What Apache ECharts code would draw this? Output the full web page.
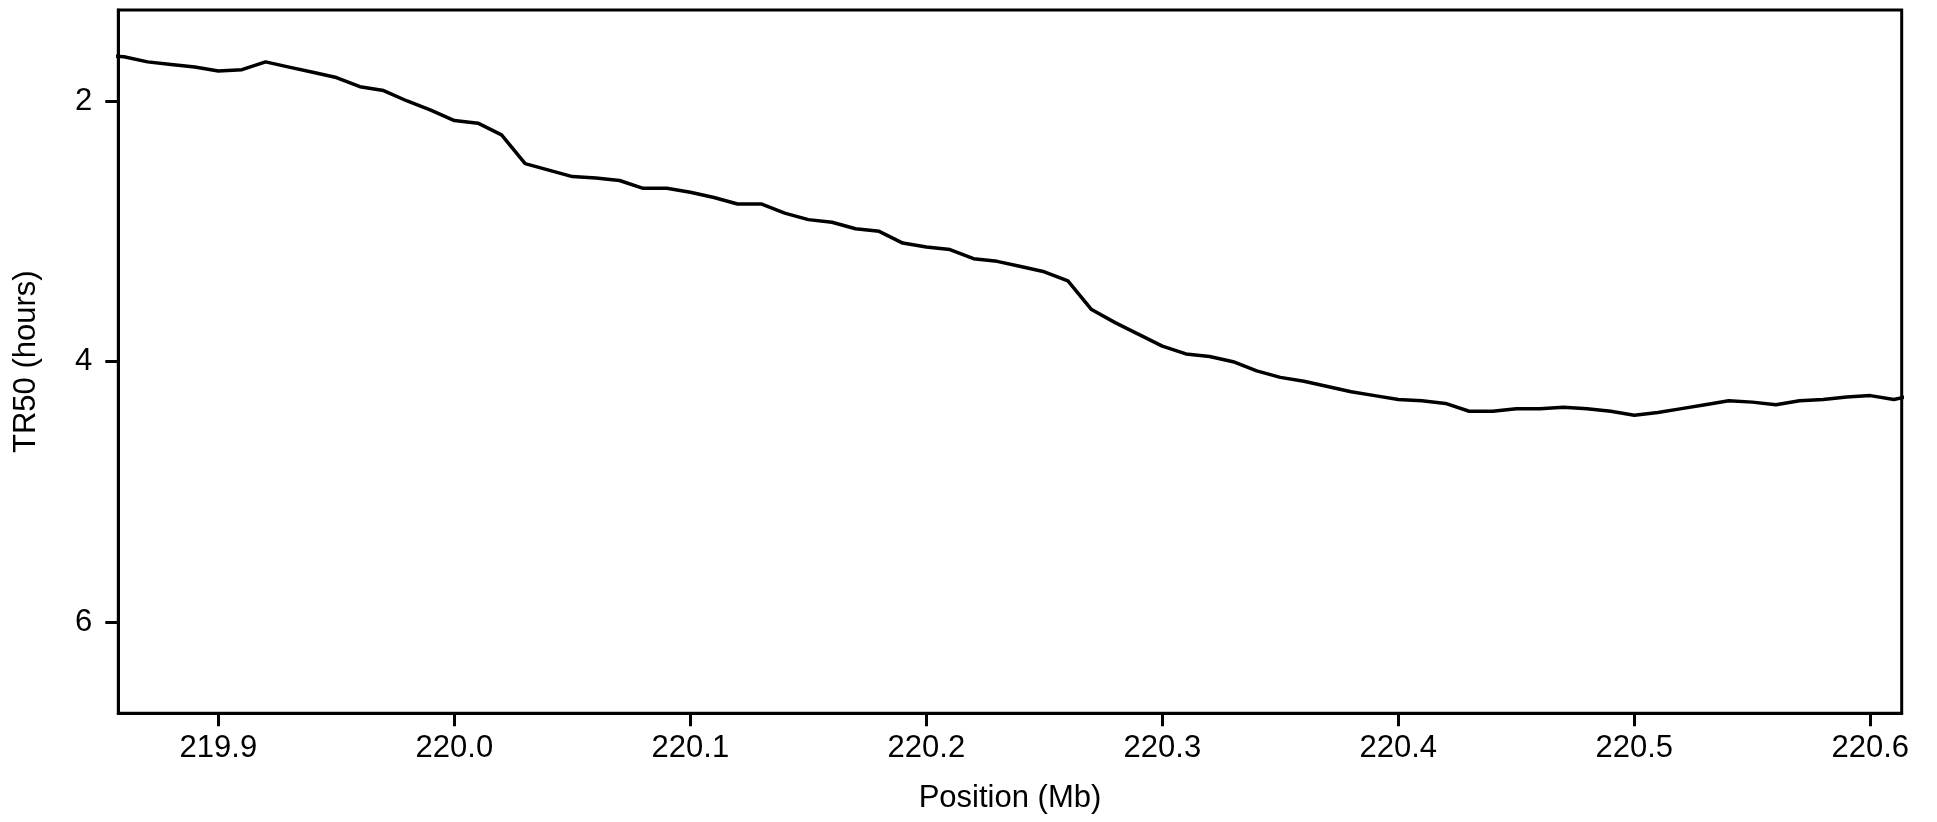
<!DOCTYPE html>
<html>
<head>
<meta charset="utf-8">
<script src="https://cdn.jsdelivr.net/npm/echarts@6/dist/echarts.min.js"></script>
<style>
html,body{margin:0;padding:0;background:#fff;}
#chart{width:1937px;height:822px;}
</style>
</head>
<body>
<div id="chart"></div>
<script>
const positions = [219.85,219.86,219.87,219.88,219.89,219.90,219.91,219.92,219.93,219.94,
  219.95,219.96,219.97,219.98,219.99,220.00,220.01,220.02,220.03,220.04,
  220.05,220.06,220.07,220.08,220.09,220.10,220.11,220.12,220.13,220.14,
  220.15,220.16,220.17,220.18,220.19,220.20,220.21,220.22,220.23,220.24,
  220.25,220.26,220.27,220.28,220.29,220.30,220.31,220.32,220.33,220.34,
  220.35,220.36,220.37,220.38,220.39,220.40,220.41,220.42,220.43,220.44,
  220.45,220.46,220.47,220.48,220.49,220.50,220.51,220.52,220.53,220.54,
  220.55,220.56,220.57,220.58,220.59,220.60,220.61,220.62];
const tr50 = [1.65,1.66,1.70,1.72,1.74,1.77,1.76,1.70,1.74,1.78,
  1.82,1.89,1.92,2.00,2.07,2.15,2.17,2.26,2.48,2.53,
  2.58,2.59,2.61,2.67,2.67,2.70,2.74,2.79,2.79,2.86,
  2.91,2.93,2.98,3.00,3.09,3.12,3.14,3.21,3.23,3.27,
  3.31,3.38,3.60,3.70,3.79,3.88,3.94,3.96,4.00,4.07,
  4.12,4.15,4.19,4.23,4.26,4.29,4.30,4.32,4.38,4.38,
  4.36,4.36,4.35,4.36,4.38,4.41,4.39,4.36,4.33,4.30,
  4.31,4.33,4.30,4.29,4.27,4.26,4.29,4.25];
const xTicks = [219.9,220.0,220.1,220.2,220.3,220.4,220.5,220.6];
const yTicks = [2,4,6];

const FONT = '"Liberation Sans", Arial, Helvetica, sans-serif';
const chart = echarts.init(document.getElementById('chart'), null, {renderer:'canvas'});
chart.setOption({
  animation: false,
  backgroundColor: '#ffffff',
  grid: {
    left: 118.3, right: 35.3, top: 10, bottom: 108.7,
    show: true, borderColor: '#000', borderWidth: 3, backgroundColor: 'transparent'
  },
  xAxis: {
    type: 'value',
    min: 219.8576, max: 220.6133,
    name: 'Position (Mb)',
    nameLocation: 'middle',
    nameGap: 70,
    nameTextStyle: {fontFamily: FONT, fontSize: 31, color: '#000'},
    axisLine: {show: true, lineStyle: {color: '#000', width: 3}},
    axisTick: {show: true, length: 13, lineStyle: {color: '#000', width: 3}, customValues: xTicks},
    axisLabel: {show: true, customValues: xTicks, margin: 20, fontFamily: FONT, fontSize: 31, color: '#000',
      formatter: v => Number(v).toFixed(1)},
    splitLine: {show: false}
  },
  yAxis: {
    type: 'value',
    inverse: true,
    min: 1.302, max: 6.697,
    name: 'TR50 (hours)',
    nameLocation: 'middle',
    nameGap: 76,
    nameRotate: 90,
    nameTextStyle: {fontFamily: FONT, fontSize: 31, color: '#000'},
    axisLine: {show: true, lineStyle: {color: '#000', width: 3}},
    axisTick: {show: true, length: 13, lineStyle: {color: '#000', width: 3}, customValues: yTicks},
    axisLabel: {show: true, customValues: yTicks, margin: 26, fontFamily: FONT, fontSize: 31, color: '#000',
      formatter: v => String(v)},
    splitLine: {show: false}
  },
  series: [{
    type: 'line',
    data: positions.map((p, i) => [p, tr50[i]]),
    showSymbol: false,
    symbol: 'none',
    smooth: false,
    clip: true,
    lineStyle: {color: '#000', width: 3.5},
    silent: true
  }]
});
</script>
</body>
</html>
